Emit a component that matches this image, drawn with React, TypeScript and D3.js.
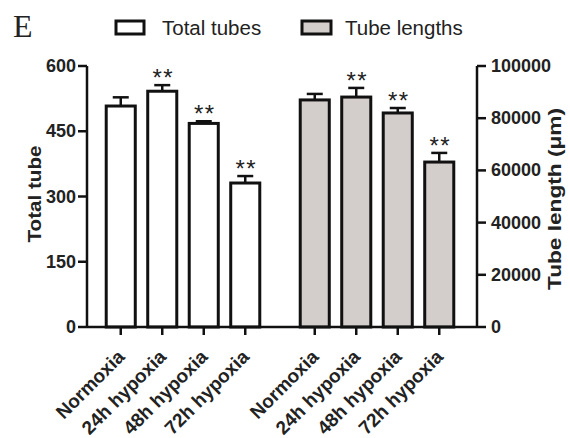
import React from "react";
import * as d3 from "d3";

const categories = ["Normoxia", "24h hypoxia", "48h hypoxia", "72h hypoxia"];
const totalTubes = [508, 542, 468, 331];
const totalTubesErr = [20, 14, 5, 16];
const tubeLengths = [87000, 88100, 82000, 63200];
const tubeLengthsErr = [2300, 3500, 1900, 3500];
const significant = [false, true, true, true];
const leftTicks = [0, 150, 300, 450, 600];
const rightTicks = [0, 20000, 40000, 60000, 80000, 100000];

const W = 570;
const H = 438;
const baseY = 327;
const topY = 66;
const leftAxisX = 87;
const rightAxisX = 477;

export default function App() {
  const yL = d3.scaleLinear().domain([0, 600]).range([baseY, topY]);
  const yR = d3.scaleLinear().domain([0, 100000]).range([baseY, topY]);
  const xL = d3.scaleBand().domain(categories).range([100, 266]).paddingInner(0.3).paddingOuter(0.15);
  const xR = d3.scaleBand().domain(categories).range([294, 460]).paddingInner(0.3).paddingOuter(0.15);
  const font = "'Liberation Sans', Arial, sans-serif";

  const groups = [
    { x: xL, y: yL, vals: totalTubes, errs: totalTubesErr, fill: "#ffffff" },
    { x: xR, y: yR, vals: tubeLengths, errs: tubeLengthsErr, fill: "#d3cdcb" },
  ];

  return (
    <svg width={W} height={H} style={{ position: "absolute", left: 0, top: 0, background: "#fff" }}>
      <text x={13} y={37} fontFamily="'Liberation Serif', 'Times New Roman', serif" fontSize={32} fill="#222">E</text>

      {/* legend */}
      <rect x={116} y={21} width={28} height={13} fill="#fff" stroke="#111" strokeWidth={3} />
      <text x={162} y={35} fontFamily={font} fontSize={20.5} fill="#222">Total tubes</text>
      <rect x={302} y={21} width={29} height={13} fill="#d3cdcb" stroke="#111" strokeWidth={3} />
      <text x={345} y={35} fontFamily={font} fontSize={20.5} fill="#222">Tube lengths</text>

      {/* bars */}
      {groups.map((g, gi) => (
        <g key={gi}>
          {categories.map((c, i) => {
            const bx = g.x(c)!;
            const bw = g.x.bandwidth();
            const cx = bx + bw / 2;
            const top = g.y(g.vals[i]);
            const et = g.y(g.vals[i] + g.errs[i]);
            return (
              <g key={c}>
                <line x1={cx} x2={cx} y1={top} y2={et} stroke="#111" strokeWidth={2.5} />
                <line x1={cx - 8} x2={cx + 8} y1={et} y2={et} stroke="#111" strokeWidth={2.5} />
                <rect x={bx} y={top} width={bw} height={baseY - top} fill={g.fill} stroke="#111" strokeWidth={3} />
                {significant[i] && (
                  <text x={cx + 1} y={et + 1} textAnchor="middle" fontFamily={font} fontSize={24} letterSpacing={1.5} fill="#222">**</text>
                )}
                <line x1={cx} x2={cx} y1={baseY} y2={baseY + 8} stroke="#111" strokeWidth={2.5} />
                <text
                  transform={`translate(${cx + 5},${baseY + 31}) rotate(-45)`}
                  textAnchor="end"
                  fontFamily={font}
                  fontSize={19}
                  fontWeight="bold"
                  fill="#222"
                >{c}</text>
              </g>
            );
          })}
        </g>
      ))}

      {/* axes */}
      <line x1={leftAxisX} x2={rightAxisX} y1={baseY} y2={baseY} stroke="#111" strokeWidth={2.5} />
      <line x1={leftAxisX} x2={leftAxisX} y1={topY} y2={baseY} stroke="#111" strokeWidth={2.5} />
      <line x1={rightAxisX} x2={rightAxisX} y1={topY} y2={baseY} stroke="#111" strokeWidth={2.5} />
      {leftTicks.map((t) => (
        <g key={t}>
          <line x1={leftAxisX - 9} x2={leftAxisX} y1={yL(t)} y2={yL(t)} stroke="#111" strokeWidth={2.5} />
          <text x={leftAxisX - 11} y={yL(t) + 6} textAnchor="end" fontFamily={font} fontSize={18} fontWeight="bold" fill="#222">{t}</text>
        </g>
      ))}
      {rightTicks.map((t) => (
        <g key={t}>
          <line x1={rightAxisX} x2={rightAxisX + 9} y1={yR(t)} y2={yR(t)} stroke="#111" strokeWidth={2.5} />
          <text x={rightAxisX + 14} y={yR(t) + 6} textAnchor="start" fontFamily={font} fontSize={18} fontWeight="bold" fill="#222">{t}</text>
        </g>
      ))}

      <text transform="translate(41,194) rotate(-90)" textAnchor="middle" fontFamily={font} fontSize={19} fontWeight="bold" fill="#222" textLength={97} lengthAdjust="spacingAndGlyphs">Total tube</text>
      <text transform="translate(561,199) rotate(-90)" textAnchor="middle" fontFamily={font} fontSize={18} fontWeight="bold" fill="#222" textLength={182} lengthAdjust="spacingAndGlyphs">Tube length (μm)</text>
    </svg>
  );
}
